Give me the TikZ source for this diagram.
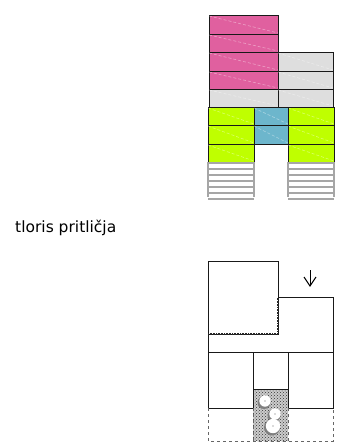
\documentclass[tikz,border=0pt]{standalone}
\usepackage{fontspec}
\setmainfont{DejaVu Sans}
\usetikzlibrary{patterns}
\definecolor{roza}{HTML}{E0609F}
\definecolor{siva}{HTML}{DEDEDE}
\definecolor{zelena}{HTML}{BFFF00}
\definecolor{modra}{HTML}{6DB6CC}
\tikzset{
    floorbox/.style={draw=black!90, line width=1pt},
    seam/.style={draw=white, opacity=0.4, line width=0.6pt, densely dashed},
    stair/.style={draw=black!35, line width=1.1pt},
    wall/.style={draw=black!90, line width=0.8pt},
    openwall/.style={draw=black!60, line width=0.7pt, dashed}
}
\begin{document}
\begin{tikzpicture}[x=1pt, y=-1pt]
    \useasboundingbox (0,0) rectangle (338,442);
    % Upper plan, pink floors
    \foreach \top/\bot in {15/34, 34/52, 52/71, 71/89} {
        \draw[floorbox, fill=roza] (209,\top) rectangle (278,\bot);
        \draw[seam] (209,\top+1) -- (278,\bot-1);
    }
    % Grey floors
    \draw[floorbox, fill=siva] (209,89) rectangle (278,107);
    \draw[seam] (209,90) -- (278,106);
    \foreach \top/\bot in {52/71, 71/89, 89/107} {
        \draw[floorbox, fill=siva] (278,\top) rectangle (333,\bot);
        \draw[seam] (278,\top+1) -- (333,\bot-1);
    }
    % Green and blue floors
    \foreach \top/\bot in {107/125, 125/144, 144/162} {
        \draw[floorbox, fill=zelena] (208,\top) rectangle (254,\bot);
        \draw[seam] (208,\top+1) -- (254,\bot-1);
        \draw[floorbox, fill=zelena] (288,\top) rectangle (334,\bot);
        \draw[seam] (288,\top+1) -- (334,\bot-1);
    }
    \foreach \top/\bot in {107/125, 125/144} {
        \draw[floorbox, fill=modra] (254,\top) rectangle (288,\bot);
        \draw[seam] (254,\top+1) -- (288,\bot-1);
    }
    % Stairs
    \foreach \y in {164,170,...,200} {
        \draw[stair] (208,\y-1) -- (254,\y-1);
        \draw[stair] (288,\y-1) -- (334,\y-1);
    }
    \draw[stair] (208,162) -- (208,197);
    \draw[stair] (254,162) -- (254,197);
    \draw[stair] (288,162) -- (288,197);
    \draw[stair] (334,162) -- (334,197);
    % Caption
    \node [anchor=base west, inner sep=0pt, font=\fontsize{15.5pt}{17pt}\selectfont] (caption) at (15,232) {tloris pritličja};
    % Lower plan
    \draw[wall] (208,261) rectangle (278,334);
    \draw[wall] (278,297) -- (333,297) -- (333,352) -- (208,352) -- (208,334);
    \draw[black!85, line width=2pt, dash pattern=on 1pt off 0.6pt] (208,334) -- (278,334) -- (278,298);
    \fill[black!20] (253,389) rectangle (288,441);
    \draw[pattern=crosshatch dots, pattern color=black!80, draw=none] (253,389) rectangle (288,441);
    \foreach \cx/\cy/\r in {265/401/6.5, 275/414/6.5, 273/426/8} {
        \fill[black!50] (\cx-1,\cy+1.5) circle (\r);
        \fill[white] (\cx,\cy) circle (\r-0.8);
        \fill[black!60] (\cx,\cy) circle (0.7);
    }
    \draw[wall] (208,352) rectangle (253,408);
    \draw[wall] (253,352) rectangle (288,389);
    \draw[wall] (288,352) rectangle (333,408);
    \draw[wall] (253,389) -- (253,408);
    \draw[wall] (288,389) -- (288,408);
    \draw[openwall] (208,408) -- (208,441) -- (333,441) -- (333,408);
    \draw[openwall] (253,408) -- (253,441);
    \draw[openwall] (288,408) -- (288,441);
    % North arrow
    \coordinate (arrowtop) at (310,270);
    \coordinate (arrowtip) at (310,286);
    \draw[black, line width=1pt] (arrowtop) -- (arrowtip);
    \draw[black, line width=1pt] (304,277) -- (arrowtip) -- (316,277);
\end{tikzpicture}
\end{document}
